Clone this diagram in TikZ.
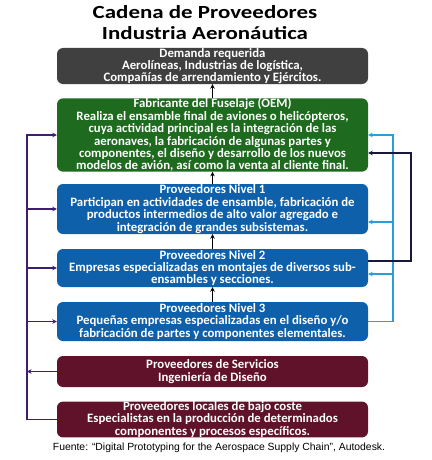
\documentclass[tikz,border=0pt]{standalone}
\usepackage{fontspec}
\setmainfont{Carlito}
\newfontfamily\titlefont[FakeStretch=1.24]{Carlito}
\newfontfamily\srcfont{Liberation Sans}
\usetikzlibrary{arrows.meta,calc}
\definecolor{boxgray}{RGB}{64,64,64}
\definecolor{boxgreen}{RGB}{30,106,30}
\definecolor{boxblue}{RGB}{14,96,170}
\definecolor{boxmaroon}{RGB}{96,18,42}
\definecolor{linepurple}{RGB}{62,30,110}
\definecolor{lineblue}{RGB}{40,158,218}
\definecolor{linenavy}{RGB}{24,24,60}
\begin{document}
\begin{tikzpicture}[x=1pt,y=-1pt,
  box/.style={draw=none, rounded corners=6pt, minimum width=311pt, inner sep=0pt,
    text=white, align=center, font=\fontsize{12.8}{12.4}\selectfont\bfseries},
  conn/.style={line width=1.1pt, -{Stealth[length=4.5pt,width=4.5pt]}},
  plain/.style={line width=1.1pt}]
\useasboundingbox (0,0) rectangle (431,460);
% title
\node[font=\titlefont\fontsize{18.5}{21}\selectfont\bfseries, align=center] (title) at (205,23)
  {Cadena de Proveedores\\Industria Aeronáutica};
% boxes
\node[box, fill=boxgray, minimum height=36pt] (demanda) at (212.5,66)
  {Demanda requerida\\Aerolíneas, Industrias de logística,\\Compañías de arrendamiento y Ejércitos.};
\node[box, fill=boxgreen, minimum height=72pt] (fuselaje) at (212.5,135)
  {Fabricante del Fuselaje (OEM)\\Realiza el ensamble final de aviones o helicópteros,\\cuya actividad principal es la integración de las\\aeronaves, la fabricación de algunas partes y\\componentes, el diseño y desarrollo de los nuevos\\modelos de avión, así como la venta al cliente final.};
\node[box, fill=boxblue, minimum height=50pt] (nivel1) at (212.5,209)
  {Proveedores Nivel 1\\Participan en actividades de ensamble, fabricación de\\productos intermedios de alto valor agregado e\\integración de grandes subsistemas.};
\node[box, fill=boxblue, minimum height=38pt] (nivel2) at (212.5,268)
  {Proveedores Nivel 2\\Empresas especializadas en montajes de diversos sub-\\ensambles y secciones.};
\node[box, fill=boxblue, minimum height=39pt] (nivel3) at (212.5,321.5)
  {Proveedores Nivel 3\\Pequeñas empresas especializadas en el diseño y/o\\fabricación de partes y componentes elementales.};
\node[box, fill=boxmaroon, minimum height=31pt] (servicios) at (212.5,371.5)
  {Proveedores de Servicios\\Ingeniería de Diseño};
\node[box, fill=boxmaroon, minimum height=35pt] (locales) at (212.5,419.5)
  {Proveedores locales de bajo coste\\Especialistas en la producción de determinados\\componentes y procesos específicos.};
\node[font=\srcfont\fontsize{10.4}{12}\selectfont] (fuente) at (219,447.5)
  {Fuente: “Digital Prototyping for the Aerospace Supply Chain”, Autodesk.};
% vertical arrows
\draw[conn] (fuselaje.north) -- (demanda.south);
\draw[conn] (nivel1.north) -- (fuselaje.south);
\draw[conn] (nivel2.north) -- (nivel1.south);
\draw[conn] (nivel3.north) -- (nivel2.south);
% left purple feedback
\coordinate (Lx) at (27,0);
\draw[conn, linepurple] (locales.west) -| (Lx |- fuselaje.west) -- (fuselaje.west);
\draw[conn, linepurple] (Lx |- nivel1.west) -- (nivel1.west);
\draw[conn, linepurple] (Lx |- nivel2.west) -- (nivel2.west);
\draw[conn, linepurple] (Lx |- nivel3.west) -- (nivel3.west);
\draw[conn, linepurple] (servicios.west) -- (Lx |- servicios.west);
% right light blue
\coordinate (Rx) at (393,0);
\coordinate (n1in) at ([yshift=-13pt]nivel1.east);
\coordinate (n2in) at ([yshift=-6pt]nivel2.east);
\draw[conn, lineblue] (nivel3.east) -| (Rx |- fuselaje.east) -- (fuselaje.east);
\draw[conn, lineblue] (Rx |- n1in) -- (n1in);
\draw[conn, lineblue] (Rx |- n2in) -- (n2in);
% right navy
\coordinate (Nx) at (411,0);
\coordinate (n2out) at ([yshift=7pt]nivel2.east);
\coordinate (fin) at ([yshift=-18pt]fuselaje.east);
\draw[conn, linenavy] (n2out) -| (Nx |- fin) -- (fin);
\end{tikzpicture}
\end{document}
